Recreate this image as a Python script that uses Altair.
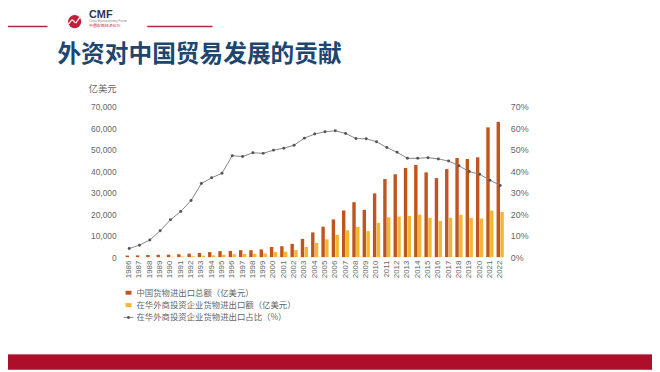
import altair as alt
import pandas as pd

years = [str(y) for y in range(1986, 2023)]
total = [738, 827, 1028, 1117, 1154, 1357, 1656, 1957, 2366, 2809, 2899, 3252, 3239, 3606,
         4743, 5097, 6208, 8510, 11546, 14219, 17604, 21761, 25633, 22075, 29740, 36419,
         38671, 41590, 43015, 39530, 36856, 41071, 46224, 45779, 46559, 60515, 63096]
foreign = [30, 46, 83, 137, 201, 290, 438, 671, 877, 1098, 1371, 1526, 1577, 1745,
           2367, 2591, 3302, 4723, 6632, 8317, 10365, 12549, 14106, 12175, 16003, 18602,
           18940, 19191, 19840, 18346, 16874, 18391, 19681, 18239, 17976, 21718, 21074]
share = [4.0, 5.6, 8.0, 12.3, 17.4, 21.3, 26.4, 34.3, 37.0, 39.1, 47.3, 46.9, 48.7, 48.4,
         49.9, 50.8, 52.2, 55.5, 57.4, 58.5, 58.9, 57.7, 55.3, 55.2, 53.8, 51.1,
         48.9, 46.1, 46.1, 46.4, 45.8, 44.8, 42.6, 39.9, 38.7, 35.9, 33.4]
series_names = ["中国货物进出口总额（亿美元）",
                "在华外商投资企业货物进出口额（亿美元）",
                "在华外商投资企业货物进出口占比（%）"]
bar_colors = ["#c0561e", "#f2b632"]
title_text = "外资对中国贸易发展的贡献"
unit_text = "亿美元"

n = len(years)
bars_df = pd.DataFrame({"year": years * 2,
                        "series": [series_names[0]] * n + [series_names[1]] * n,
                        "value": total + foreign})
line_df = pd.DataFrame({"year": years, "share": share})

PW, PH = 386, 152
OX, OY = 125.5, 106  # page position of plot origin


def px(x):
    return x - OX


def py(y):
    return y - OY


one = pd.DataFrame({"a": [0]})
CJK = "Noto Sans CJK SC"
LAT = "Liberation Sans"

xscale = alt.Scale(paddingInner=0.3, paddingOuter=0.15)
xaxis = alt.Axis(title=None, labelAngle=-90, labelFontSize=8, labelColor="#666",
                 labelFont=LAT, ticks=False, domain=False, labelPadding=3)

bars = alt.Chart(bars_df).mark_bar().encode(
    x=alt.X("year:O", scale=xscale, axis=xaxis),
    xOffset=alt.XOffset("series:N", sort=series_names[:2],
                        scale=alt.Scale(paddingInner=0.1)),
    y=alt.Y("value:Q", scale=alt.Scale(domain=[0, 70000]),
            axis=alt.Axis(values=list(range(0, 70001, 10000)), format=",d", title=None,
                          grid=False, domain=False, ticks=False, labelFontSize=8.5,
                          labelColor="#666", labelFont=LAT, labelPadding=8)),
    color=alt.Color("series:N", sort=series_names[:2],
                    scale=alt.Scale(domain=series_names[:2], range=bar_colors), legend=None),
)

line = alt.Chart(line_df).mark_line(
    color="#858585", strokeWidth=1,
    point=alt.OverlayMarkDef(filled=True, color="#555", size=9)
).encode(
    x=alt.X("year:O", scale=xscale, axis=xaxis),
    y=alt.Y("share:Q", scale=alt.Scale(domain=[0, 70]),
            axis=alt.Axis(orient="right", values=list(range(0, 71, 10)),
                          labelExpr="datum.value + '%'", title=None, grid=False,
                          domain=False, ticks=False, labelFontSize=9, labelColor="#666",
                          labelFont=LAT, labelPadding=5)),
)


def text_layer(txt, x, y, size, color, weight="normal", align="left", font=CJK, baseline="middle"):
    return alt.Chart(one).mark_text(text=txt, fontSize=size, color=color, fontWeight=weight,
                                    align=align, baseline=baseline, font=font).encode(
        x=alt.value(px(x)), y=alt.value(py(y)))


def rect_layer(x1, x2, y1, y2, color):
    return alt.Chart(one).mark_rect(color=color).encode(
        x=alt.value(px(x1)), x2=alt.value(px(x2)), y=alt.value(py(y1)), y2=alt.value(py(y2)))


def rule_layer(x1, y1, x2, y2, color, w):
    return alt.Chart(one).mark_rule(color=color, strokeWidth=w).encode(
        x=alt.value(px(x1)), x2=alt.value(px(x2)), y=alt.value(py(y1)), y2=alt.value(py(y2)))


deco = [
    # header
    rule_layer(0, 24.5, 48, 24.5, "#b3283c", 1.5),
    rule_layer(149, 24.5, 215, 24.5, "#b3283c", 1.5),
    alt.Chart(one).mark_circle(color="#c41e3a", opacity=1, size=180).encode(
        x=alt.value(px(75.5)), y=alt.value(py(19.5))),
    rule_layer(69, 22, 73, 17.5, "white", 1.2),
    rule_layer(73, 17.5, 76.5, 21, "white", 1.2),
    rule_layer(76.5, 21, 82, 13.5, "white", 1.2),
    text_layer("CMF", 90, 12.5, 11, "#2a3555", weight="bold", font=LAT),
    text_layer("China Macroeconomy Forum", 90, 18.8, 3, "#888", font=LAT),
    text_layer("中国宏观经济论坛", 90, 24.3, 4, "#c41e3a"),
    text_layer(title_text, 58, 53.3, 24, "#1d4670", weight="bold"),
    text_layer(unit_text, 118, 88, 9.5, "#666", align="right"),
    # legend
    rect_layer(127, 133, 292, 296, bar_colors[0]),
    text_layer(series_names[0], 138, 294, 8.5, "#666"),
    rect_layer(127, 133, 304.5, 308.5, bar_colors[1]),
    text_layer(series_names[1], 138, 306.5, 8.5, "#666"),
    rule_layer(125, 319, 135, 319, "#858585", 1),
    alt.Chart(one).mark_circle(color="#555", opacity=1, size=9).encode(
        x=alt.value(px(130)), y=alt.value(py(319))),
    text_layer(series_names[2], 138, 319, 8.5, "#666"),
    # footer band
    rect_layer(0, 660, 356, 372, "#ad0f2b"),
    rule_layer(0, 356.5, 660, 356.5, "#c7707e", 1),
]

chart = alt.layer(bars, line, *deco).resolve_scale(y="independent").properties(
    width=PW, height=PH,
    autosize=alt.AutoSizeParams(type="none"),
    padding={"left": OX - 8, "top": OY - 8, "right": 652 - (OX - 8) - PW,
             "bottom": 364 - (OY - 8) - PH},
    background="white",
).configure_view(stroke=None)

chart.save("out.html", embed_options={"renderer": "svg", "actions": False})
